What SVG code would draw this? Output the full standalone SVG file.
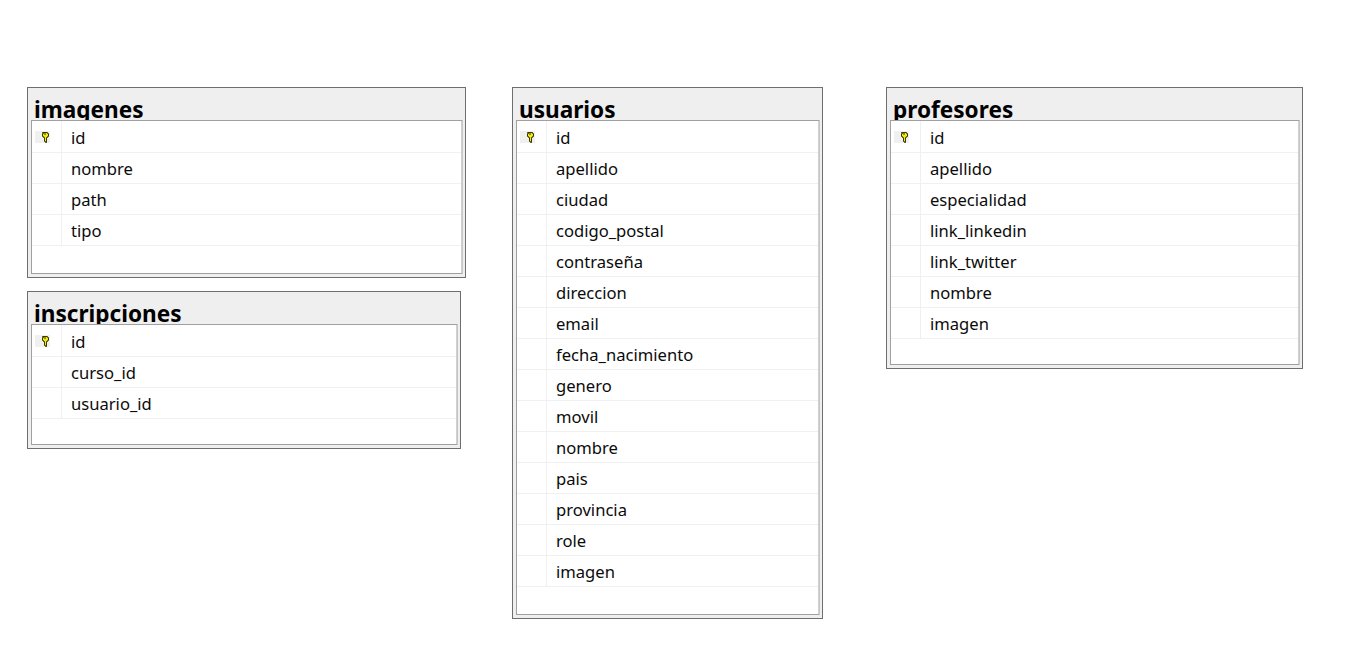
<svg xmlns="http://www.w3.org/2000/svg" width="1362" height="649" viewBox="0 0 1362 649">
<style>
.frame{fill:#efefef;stroke:#6e6e6e;stroke-width:1}
.inner{fill:#fff;stroke:#a0a0a0;stroke-width:1}
.grid{stroke:#f0f0f0;stroke-width:1;fill:none}
.title{font:700 22.6px "Noto Sans","Open Sans","Liberation Sans",sans-serif;fill:#000}
.row{font:400 16.6px "Noto Sans","Open Sans","Liberation Sans",sans-serif;fill:#0b0b0b}
</style>
<defs>
<g id="key">
<rect x="-10" y="-6" width="15" height="12" fill="#f0f0f0"/>
<path d="M-2.500 -4.500h5v1h1v3h-1v1h-1v5h-1v-1h-1v-4h-1v-1h-1v-3h1z" fill="#f5e90c" stroke="#3a3a00" stroke-width="1"/>
<rect x="-1" y="-3.500" width="2" height="1" fill="#333"/>
</g>
</defs>
<rect width="1362" height="649" fill="#fff"/>
<g id="connectors"></g>

<g id="imagenes">
<rect class="frame" x="27.5" y="87.5" width="438" height="190"/>
<text class="title" x="34" y="118">imagenes</text>
<rect class="inner" x="31.5" y="120.5" width="430.500" height="153"/>
<path class="grid" d="M32 152.500H461M32 183.500H461M32 214.500H461M32 245.500H461M61.500 121V245"/>
<use href="#key" x="45" y="137"/>
<text class="row" x="71" y="144">id</text>
<text class="row" x="71" y="175">nombre</text>
<text class="row" x="71" y="206">path</text>
<text class="row" x="71" y="237">tipo</text>
</g>

<g id="inscripciones">
<rect class="frame" x="27.5" y="291.500" width="433" height="157"/>
<text class="title" x="34" y="322">inscripciones</text>
<rect class="inner" x="31.5" y="324.500" width="425.500" height="120"/>
<path class="grid" d="M32 356.500H456M32 387.500H456M32 418.500H456M61.500 325V418"/>
<use href="#key" x="45" y="341"/>
<text class="row" x="71" y="348">id</text>
<text class="row" x="71" y="379">curso_id</text>
<text class="row" x="71" y="410">usuario_id</text>
</g>

<g id="usuarios">
<rect class="frame" x="512.500" y="87.5" width="310" height="531"/>
<text class="title" x="519" y="118">usuarios</text>
<rect class="inner" x="516.500" y="120.500" width="302.500" height="494"/>
<path class="grid" d="M517 152.500H818M517 183.500H818M517 214.500H818M517 245.500H818M517 276.500H818M517 307.500H818M517 338.500H818M517 369.500H818M517 400.500H818M517 431.500H818M517 462.500H818M517 493.500H818M517 524.500H818M517 555.500H818M517 586.500H818M546.500 121V586"/>
<use href="#key" x="530" y="137"/>
<text class="row" x="556" y="144">id</text>
<text class="row" x="556" y="175">apellido</text>
<text class="row" x="556" y="206">ciudad</text>
<text class="row" x="556" y="237">codigo_postal</text>
<text class="row" x="556" y="268">contraseña</text>
<text class="row" x="556" y="299">direccion</text>
<text class="row" x="556" y="330">email</text>
<text class="row" x="556" y="361">fecha_nacimiento</text>
<text class="row" x="556" y="392">genero</text>
<text class="row" x="556" y="423">movil</text>
<text class="row" x="556" y="454">nombre</text>
<text class="row" x="556" y="485">pais</text>
<text class="row" x="556" y="516">provincia</text>
<text class="row" x="556" y="547">role</text>
<text class="row" x="556" y="578">imagen</text>
</g>

<g id="profesores">
<rect class="frame" x="886.500" y="87.5" width="416" height="281"/>
<text class="title" x="893" y="118">profesores</text>
<rect class="inner" x="890.500" y="120.500" width="408.500" height="244"/>
<path class="grid" d="M891 152.500H1298M891 183.500H1298M891 214.500H1298M891 245.500H1298M891 276.500H1298M891 307.500H1298M891 338.500H1298M920.500 121V338"/>
<use href="#key" x="904" y="137"/>
<text class="row" x="930" y="144">id</text>
<text class="row" x="930" y="175">apellido</text>
<text class="row" x="930" y="206">especialidad</text>
<text class="row" x="930" y="237">link_linkedin</text>
<text class="row" x="930" y="268">link_twitter</text>
<text class="row" x="930" y="299">nombre</text>
<text class="row" x="930" y="330">imagen</text>
</g>
</svg>
